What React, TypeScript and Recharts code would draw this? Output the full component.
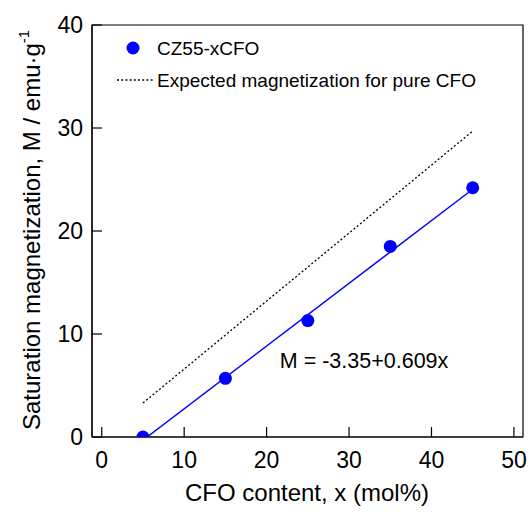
import {
  ComposedChart,
  Scatter,
  Line,
  XAxis,
  YAxis,
  ReferenceArea,
  ReferenceDot,
} from 'recharts'

const FONT = '"Liberation Sans", Arial, Helvetica, sans-serif'
const BLUE = '#0000ff'

// measured samples
const cfoContent = [5, 15, 25, 35, 45]
const magnetization = [0.0, 5.7, 11.3, 18.5, 24.2]

// expected line for pure CFO (end points)
const expectedContent = [5, 45]
const expectedMagnetization = [3.3, 29.7]

// linear fit M = a + b x
const fitIntercept = -3.35
const fitSlope = 0.609
const fitRange = [5.5, 45]

const xTicks = [0, 10, 20, 30, 40, 50]
const yTicks = [0, 10, 20, 30, 40]
const xDomain: [number, number] = [-1.18, 51.1]
const yDomain: [number, number] = [0, 40]

const samples = cfoContent.map((x, i) => ({ x, m: magnetization[i] }))
const expected = expectedContent.map((x, i) => ({ x, m: expectedMagnetization[i] }))
const fit = fitRange.map((x) => ({ x, m: fitIntercept + fitSlope * x }))

function XTick(props: any) {
  const { x, y, payload } = props
  return (
    <g>
      <line x1={x} x2={x} y1={y} y2={y - 10} stroke="#000" strokeWidth={1.2} />
      <text x={x} y={y + 31} textAnchor="middle" fontSize={23} fontFamily={FONT} fill="#000">
        {payload.value}
      </text>
    </g>
  )
}

function YTick(props: any) {
  const { x, y, payload } = props
  return (
    <g>
      <line x1={x} x2={x + 10} y1={y} y2={y} stroke="#000" strokeWidth={1.2} />
      <text x={x - 9} y={y + 8} textAnchor="end" fontSize={23} fontFamily={FONT} fill="#000">
        {payload.value}
      </text>
    </g>
  )
}

// legend drawn in chart pixels, top-left of the plot
function LegendBox() {
  return (
    <g transform="translate(110, 36)">
      <circle cx={23} cy={12} r={6.5} fill={BLUE} />
      <text x={47} y={12} dy="0.35em" fontSize={19} fontFamily={FONT} fill="#000">
        CZ55-xCFO
      </text>
      <line x1={7} x2={43} y1={44} y2={44} stroke="#000" strokeWidth={1.3} strokeDasharray="2 2.2" />
      <text x={47} y={44} dy="0.35em" fontSize={19} fontFamily={FONT} fill="#000">
        Expected magnetization for pure CFO
      </text>
    </g>
  )
}

export default function App() {
  return (
    <div style={{ position: 'absolute', left: 0, top: 0, background: '#fff' }}>
      <ComposedChart width={531} height={512} margin={{ top: 25, right: 8, bottom: 0, left: 0 }}>
        <XAxis
          dataKey="x"
          type="number"
          domain={xDomain}
          ticks={xTicks}
          interval={0}
          allowDataOverflow
          height={75}
          tickSize={0}
          tickMargin={0}
          tickLine={false}
          axisLine={{ stroke: '#000', strokeWidth: 1.2 }}
          tick={<XTick />}
        />
        <YAxis
          type="number"
          domain={yDomain}
          ticks={yTicks}
          interval={0}
          allowDataOverflow
          width={92}
          tickSize={0}
          tickMargin={0}
          tickLine={false}
          axisLine={{ stroke: '#000', strokeWidth: 1.2 }}
          tick={<YTick />}
        />
        <ReferenceArea
          x1={xDomain[0]}
          x2={xDomain[1]}
          y1={yDomain[0]}
          y2={yDomain[1]}
          fill="none"
          fillOpacity={0}
          stroke="#000"
          strokeWidth={1.2}
        />
        <Line
          data={expected}
          dataKey="m"
          stroke="#000"
          strokeWidth={1.3}
          strokeDasharray="2 2.2"
          dot={false}
          activeDot={false}
          isAnimationActive={false}
        />
        <Line
          data={fit}
          dataKey="m"
          stroke={BLUE}
          strokeWidth={1.5}
          dot={false}
          activeDot={false}
          isAnimationActive={false}
        />
        <Scatter
          data={samples}
          dataKey="m"
          fill={BLUE}
          isAnimationActive={false}
          shape={(p: any) => <circle cx={p.cx} cy={p.cy} r={6.5} fill={BLUE} />}
        />
        <ReferenceDot
          x={21.6}
          y={7.4}
          r={0}
          label={(p: any) => (
            <text
              x={p.viewBox.x}
              y={p.viewBox.y}
              dy="0.35em"
              fontSize={21.5}
              fontFamily={FONT}
              fill="#000"
            >
              M = -3.35+0.609x
            </text>
          )}
        />
        <LegendBox />
        <text x={307} y={501} textAnchor="middle" fontSize={24} fontFamily={FONT} fill="#000">
          CFO content, x (mol%)
        </text>
        <text
          transform="translate(40, 430) rotate(-90)"
          textAnchor="start"
          fontSize={24}
          fontFamily={FONT}
          fill="#000"
        >
          Saturation magnetization, M / emu·g
          <tspan fontSize={15} dy={-11}>-1</tspan>
        </text>
      </ComposedChart>
    </div>
  )
}
